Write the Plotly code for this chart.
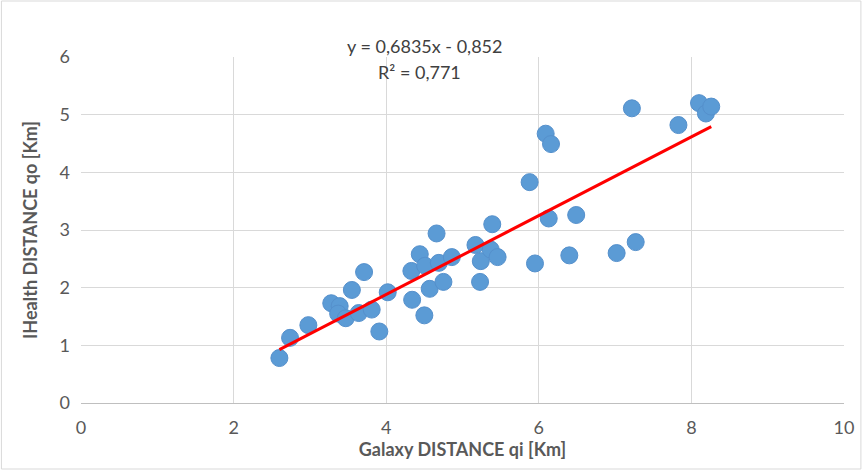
import plotly.graph_objects as go

# Data
galaxy_qi = [2.60, 2.74, 2.98, 3.28, 3.39, 3.37, 3.47, 3.55, 3.64, 3.71, 3.81, 3.91, 4.02,
             4.33, 4.34, 4.44, 4.51, 4.50, 4.57, 4.66, 4.69, 4.75, 4.86, 5.17, 5.24, 5.23,
             5.39, 5.37, 5.46, 5.88, 5.95, 6.09, 6.16, 6.13, 6.40, 6.49, 7.02, 7.22, 7.27,
             7.83, 8.10, 8.19, 8.26]
ihealth_qo = [0.78, 1.13, 1.35, 1.73, 1.68, 1.55, 1.47, 1.96, 1.56, 2.27, 1.62, 1.24, 1.92,
              2.29, 1.79, 2.58, 2.38, 1.52, 1.98, 2.94, 2.43, 2.10, 2.53, 2.74, 2.46, 2.10,
              3.10, 2.66, 2.53, 3.83, 2.42, 4.67, 4.49, 3.20, 2.56, 3.26, 2.60, 5.11, 2.79,
              4.82, 5.20, 5.02, 5.14]
trend_slope = 0.6835
trend_intercept = -0.852
r_squared = 0.771
x_ticks = [0, 2, 4, 6, 8, 10]
y_ticks = [0, 1, 2, 3, 4, 5, 6]

W, H = 866, 470
ML, MR, MT, MB = 81, 18, 57, 67
pw, ph = W - ML - MR, H - MT - MB

font_family = "Lato, Open Sans, Arial"
grey = "#595959"

fig = go.Figure()
fig.add_trace(go.Scatter(
    x=galaxy_qi, y=ihealth_qo, mode="markers",
    marker=dict(size=17, color="#5B9BD5", line=dict(color="#5590CC", width=1)),
    showlegend=False))

xmin, xmax = min(galaxy_qi), max(galaxy_qi)
fig.add_trace(go.Scatter(
    x=[xmin, xmax],
    y=[trend_slope * xmin + trend_intercept, trend_slope * xmax + trend_intercept],
    mode="lines", line=dict(color="#FF0000", width=3), showlegend=False))

def fmt(v):
    return str(v).replace(".", ",")

eq = f"y = {fmt(trend_slope)}x - {fmt(abs(trend_intercept))}"
r2 = f"R² = {fmt(r_squared)}"

def px_x(p):
    return (p - ML) / pw
def px_y(p):
    return 1 - (p - MT) / ph

fig.add_annotation(text=eq, xref="paper", yref="paper", x=px_x(427), y=px_y(33),
                   showarrow=False, font=dict(size=18, color="#404040", family=font_family))
fig.add_annotation(text=r2, xref="paper", yref="paper", x=px_x(421), y=px_y(59),
                   showarrow=False, font=dict(size=18, color="#404040", family=font_family))

fig.add_shape(type="rect", xref="paper", yref="paper",
              x0=px_x(1), x1=px_x(W - 1), y0=px_y(H - 1), y1=px_y(1),
              line=dict(color="#D9D9D9", width=1), layer="below")

fig.update_layout(
    width=W, height=H,
    margin=dict(l=ML, r=MR, t=MT, b=MB),
    paper_bgcolor="white", plot_bgcolor="white",
    font=dict(family=font_family, color=grey, size=18),
    xaxis=dict(range=[0, 10], tickvals=x_ticks, showgrid=True, gridcolor="#D9D9D9",
               zeroline=False, showline=False, ticks="", tickfont=dict(size=18, color=grey),
               ticklabelstandoff=12,
               title=dict(text="<b>Galaxy DISTANCE qi [Km]</b>", font=dict(size=18, color=grey),
                          standoff=6)),
    yaxis=dict(range=[0, 6], tickvals=y_ticks, showgrid=True, gridcolor="#D9D9D9",
               zeroline=True, zerolinecolor="#BFBFBF", zerolinewidth=1,
               showline=False, ticks="", tickfont=dict(size=18, color=grey),
               ticklabelstandoff=10,
               title=dict(text="<b>IHealth DISTANCE qo [Km]</b>", font=dict(size=18, color=grey),
                          standoff=17)),
)

fig.write_html("out.html")
